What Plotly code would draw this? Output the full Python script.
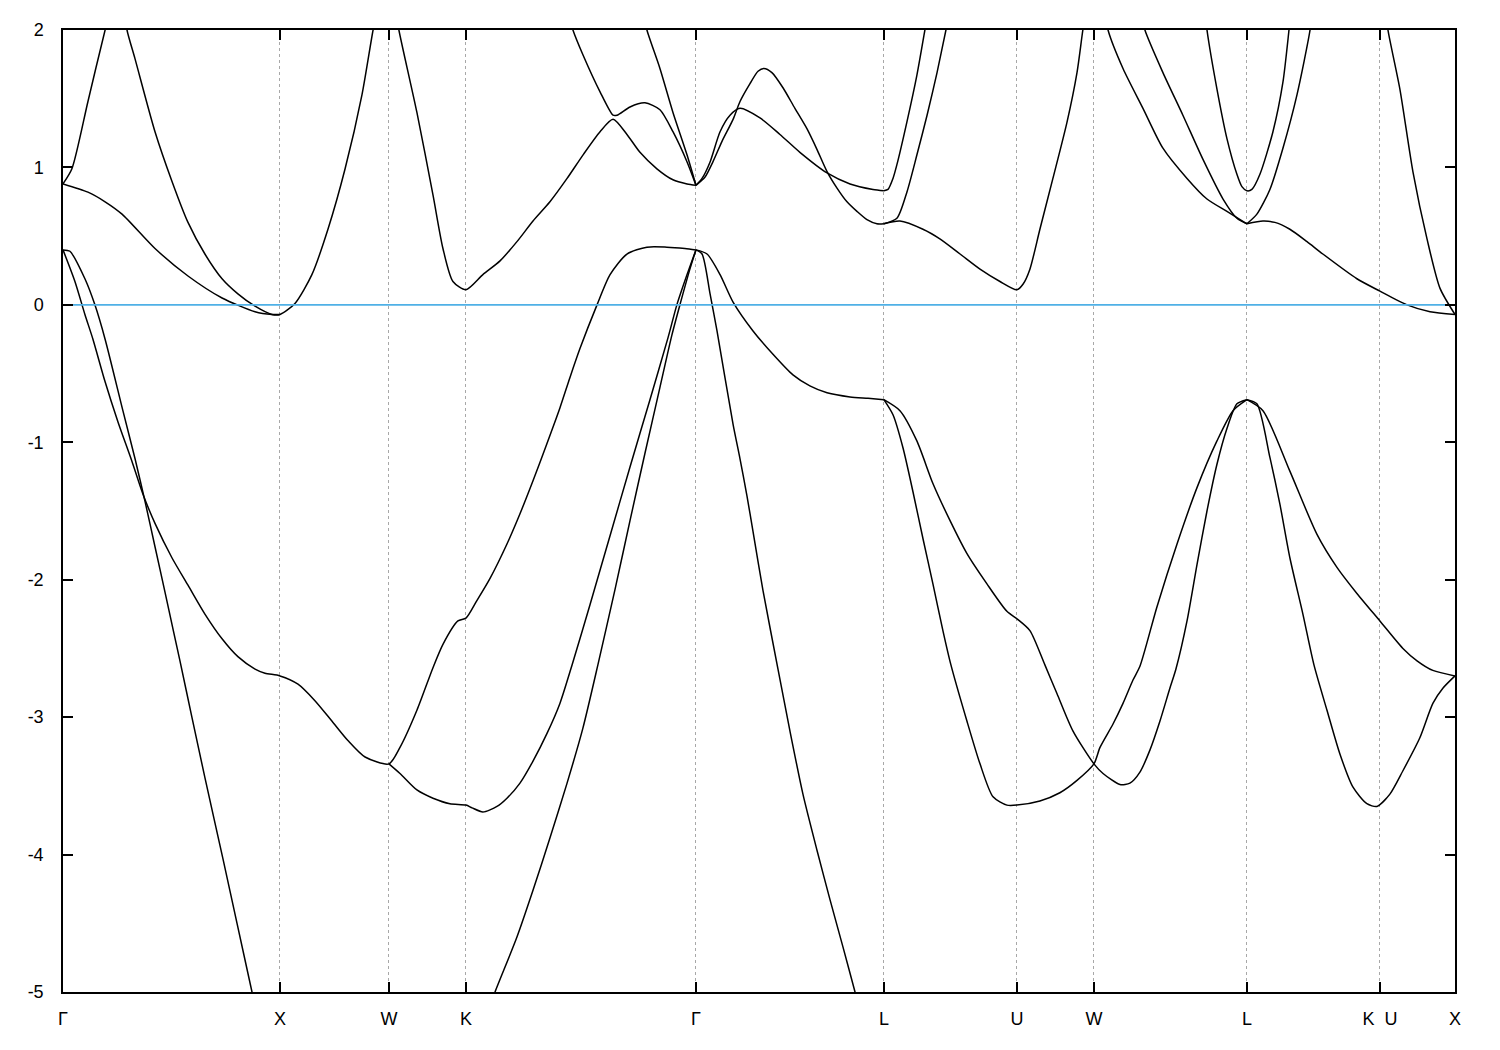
import plotly.graph_objects as go

# ---- high-symmetry points (k-path distance, units where Gamma-X = 1) ----
kpt_labels = ["Γ", "X", "W", "K", "Γ", "L", "U", "W", "L", "K\u00a0\u00a0U", "X"]
kpt_pos = [0.0, 1.0, 1.502, 1.857, 2.917, 3.783, 4.396, 4.751, 5.456, 6.069, 6.415]

e_ticks = [-5, -4, -3, -2, -1, 0, 1, 2]
e_tick_text = ["-5", "-4", "-3", "-2", "-1", "0", "1", "2"]
fermi_level = 0.0

# ---- valence bands ----
s1_k = [0, 0.032, 0.101, 0.147, 0.194, 0.276, 0.332, 0.378, 0.424, 0.470, 0.507, 0.539, 0.594, 0.654, 0.737, 0.802, 0.871, 0.917]
s1_e = [0.40, 0.39, 0.19, 0.00, -0.25, -0.77, -1.12, -1.43, -1.76, -2.09, -2.36, -2.59, -3.00, -3.44, -4.03, -4.50, -5.00, -5.33]

g_k = [0, 0.055, 0.101, 0.138, 0.194, 0.253, 0.318, 0.369, 0.424, 0.502, 0.576, 0.654, 0.733, 0.806, 0.885, 0.931, 1.000,
       1.083, 1.161, 1.240, 1.313, 1.392, 1.502,
       1.553, 1.631, 1.705, 1.751, 1.820, 1.857,
       1.908, 1.968, 2.046, 2.106, 2.166, 2.230, 2.290, 2.336, 2.382, 2.461, 2.521, 2.599, 2.691, 2.783, 2.866, 2.917]
g_e = [0.40, 0.17, -0.07, -0.25, -0.56, -0.85, -1.14, -1.38, -1.59, -1.84, -2.04, -2.25, -2.43, -2.56, -2.65, -2.68, -2.70,
       -2.76, -2.88, -3.03, -3.17, -3.29, -3.34,
       -3.22, -2.95, -2.64, -2.47, -2.30, -2.28,
       -2.15, -1.99, -1.74, -1.52, -1.28, -1.01, -0.75, -0.53, -0.32, 0.00, 0.22, 0.37, 0.42, 0.42, 0.41, 0.40]

h_k = [1.502, 1.553, 1.631, 1.705, 1.783, 1.857, 1.885, 1.935, 2.000, 2.046, 2.106, 2.166, 2.230, 2.290, 2.346, 2.429, 2.521, 2.613, 2.705, 2.788, 2.829, 2.876, 2.917]
h_e = [-3.34, -3.41, -3.53, -3.59, -3.63, -3.64, -3.66, -3.69, -3.65, -3.59, -3.48, -3.32, -3.12, -2.90, -2.62, -2.18, -1.68, -1.18, -0.69, -0.24, 0.00, 0.22, 0.40]

s2_k = [1.945, 1.991, 2.092, 2.166, 2.244, 2.323, 2.396, 2.465, 2.544, 2.613, 2.682, 2.751, 2.806, 2.843, 2.889, 2.917]
s2_e = [-5.20, -5.00, -4.60, -4.26, -3.88, -3.48, -3.08, -2.62, -2.07, -1.57, -1.08, -0.60, -0.22, 0.00, 0.26, 0.40]

vd_k = [2.917, 2.968, 3.028, 3.088, 3.180, 3.272, 3.364, 3.442, 3.521, 3.627, 3.710, 3.783]
vd_e = [0.40, 0.37, 0.22, 0.02, -0.19, -0.36, -0.51, -0.59, -0.64, -0.67, -0.68, -0.69]

sl_k = [2.917, 2.945, 2.982, 3.014, 3.088, 3.120, 3.152, 3.180, 3.226, 3.295, 3.350, 3.410, 3.475, 3.535, 3.594, 3.650, 3.696]
sl_e = [0.40, 0.37, 0.08, -0.19, -0.87, -1.12, -1.39, -1.65, -2.08, -2.65, -3.10, -3.56, -3.97, -4.33, -4.67, -5.00, -5.28]

p_k = [3.783, 3.825, 3.871, 3.917, 3.963, 4.009, 4.055, 4.092, 4.166, 4.226, 4.286, 4.350, 4.396, 4.502, 4.594, 4.673, 4.751,
       4.779, 4.839, 4.885, 4.931, 4.963, 5.041, 5.134, 5.226, 5.318, 5.392, 5.456]
p_e = [-0.69, -0.80, -1.04, -1.36, -1.70, -2.03, -2.37, -2.62, -3.03, -3.34, -3.58, -3.64, -3.64, -3.61, -3.55, -3.46, -3.34,
       -3.22, -3.05, -2.90, -2.73, -2.63, -2.20, -1.74, -1.33, -0.99, -0.77, -0.69]

q_k = [3.783, 3.857, 3.935, 4.009, 4.088, 4.166, 4.258, 4.350, 4.401, 4.456, 4.525, 4.581, 4.654, 4.751,
       4.793, 4.871, 4.917, 4.963, 5.009, 5.055, 5.101, 5.129, 5.180, 5.226, 5.272, 5.318, 5.364, 5.410, 5.456]
q_e = [-0.69, -0.77, -0.99, -1.30, -1.57, -1.81, -2.03, -2.23, -2.29, -2.37, -2.62, -2.83, -3.10, -3.34,
       -3.41, -3.49, -3.48, -3.40, -3.24, -3.03, -2.79, -2.65, -2.30, -1.89, -1.50, -1.16, -0.90, -0.72, -0.69]

r_k = [5.456, 5.502, 5.562, 5.608, 5.654, 5.714, 5.765, 5.825, 5.885, 5.945, 6.009, 6.055, 6.115, 6.175, 6.253, 6.313, 6.359, 6.415]
r_e = [-0.69, -0.72, -1.11, -1.45, -1.84, -2.25, -2.62, -2.95, -3.27, -3.51, -3.63, -3.65, -3.56, -3.39, -3.15, -2.90, -2.79, -2.70]

t_k = [5.456, 5.530, 5.654, 5.779, 5.871, 5.963, 6.069, 6.175, 6.240, 6.313, 6.415]
t_e = [-0.69, -0.77, -1.21, -1.67, -1.91, -2.10, -2.30, -2.50, -2.59, -2.66, -2.70]

# ---- conduction bands ----
a_k = [0, 0.041, 0.115, 0.194, 0.217]
a_e = [0.88, 0.99, 1.48, 2.00, 2.13]

b_k = [0, 0.115, 0.194, 0.272, 0.424, 0.576, 0.733, 0.885, 0.963, 1.0]
b_e = [0.88, 0.82, 0.75, 0.66, 0.41, 0.21, 0.05, -0.05, -0.07, -0.07]

c_k = [0.286, 0.295, 0.332, 0.424, 0.502, 0.576, 0.654, 0.733, 0.806, 0.885, 0.963, 1.0,
       1.069, 1.147, 1.221, 1.300, 1.378, 1.429, 1.447]
c_e = [2.13, 2.00, 1.79, 1.26, 0.90, 0.60, 0.37, 0.19, 0.08, -0.01, -0.07, -0.07,
       0.01, 0.22, 0.55, 0.99, 1.53, 2.00, 2.13]

d_k = [1.535, 1.548, 1.631, 1.705, 1.751, 1.797, 1.857, 1.935, 2.014, 2.092, 2.166, 2.244, 2.323, 2.396, 2.475, 2.535,
       2.599, 2.659, 2.737, 2.811, 2.876, 2.917]
d_e = [2.13, 2.00, 1.40, 0.80, 0.41, 0.17, 0.11, 0.22, 0.32, 0.46, 0.61, 0.75, 0.92, 1.09, 1.26, 1.35,
       1.24, 1.11, 0.99, 0.91, 0.88, 0.87]

e_k = [2.327, 2.350, 2.396, 2.475, 2.535, 2.553, 2.613, 2.682, 2.751, 2.811, 2.876, 2.917]
e_e = [2.13, 2.00, 1.82, 1.55, 1.38, 1.38, 1.44, 1.47, 1.42, 1.26, 1.04, 0.87]

f_k = [2.673, 2.691, 2.751, 2.811, 2.876, 2.917]
f_e = [2.13, 2.00, 1.72, 1.40, 1.09, 0.87]

j_k = [2.917, 2.959, 2.995, 3.037, 3.088, 3.120, 3.166, 3.203, 3.230, 3.267, 3.318, 3.373, 3.429, 3.475, 3.521,
       3.567, 3.613, 3.659, 3.705, 3.751, 3.783]
j_e = [0.87, 0.93, 1.04, 1.19, 1.35, 1.48, 1.61, 1.70, 1.72, 1.69, 1.58, 1.43, 1.28, 1.13, 0.97,
       0.85, 0.75, 0.68, 0.62, 0.59, 0.59]

k1_k = [2.917, 2.945, 2.982, 3.028, 3.074, 3.120, 3.212, 3.304, 3.396, 3.521, 3.627, 3.733, 3.783]
k1_e = [0.87, 0.92, 1.04, 1.26, 1.38, 1.43, 1.36, 1.24, 1.11, 0.96, 0.88, 0.84, 0.83]

m1_k = [3.783, 3.802, 3.825, 3.843, 3.889, 3.935, 3.972, 3.986]
m1_e = [0.83, 0.84, 0.92, 1.02, 1.33, 1.67, 2.00, 2.13]

m2_k = [3.783, 3.843, 3.889, 3.935, 3.982, 4.028, 4.069, 4.088]
m2_e = [0.59, 0.63, 0.82, 1.09, 1.38, 1.69, 2.00, 2.13]

m3_k = [3.783, 3.857, 3.963, 4.041, 4.134, 4.226, 4.318, 4.396, 4.424, 4.456, 4.502, 4.562, 4.627, 4.673, 4.700, 4.714]
m3_e = [0.59, 0.61, 0.55, 0.48, 0.37, 0.26, 0.17, 0.11, 0.15, 0.26, 0.55, 0.92, 1.33, 1.69, 2.00, 2.13]

n1_k = [4.802, 4.816, 4.885, 4.977, 5.069, 5.180, 5.272, 5.364, 5.456]
n1_e = [2.13, 2.00, 1.72, 1.43, 1.14, 0.92, 0.77, 0.68, 0.59]

n2_k = [4.968, 4.986, 5.069, 5.161, 5.253, 5.346, 5.410, 5.456]
n2_e = [2.13, 2.00, 1.69, 1.38, 1.06, 0.77, 0.63, 0.59]

n3_k = [5.263, 5.272, 5.318, 5.364, 5.410, 5.433, 5.456, 5.479, 5.516, 5.576, 5.622, 5.650, 5.659]
n3_e = [2.13, 2.00, 1.57, 1.21, 0.95, 0.86, 0.83, 0.84, 0.95, 1.26, 1.62, 2.00, 2.13]

n4_k = [5.456, 5.502, 5.562, 5.622, 5.687, 5.747, 5.756]
n4_e = [0.59, 0.66, 0.84, 1.14, 1.53, 2.00, 2.13]

n5_k = [5.456, 5.530, 5.585, 5.654, 5.733, 5.806, 5.963, 6.069, 6.194, 6.300, 6.415]
n5_e = [0.59, 0.61, 0.60, 0.55, 0.46, 0.37, 0.19, 0.10, 0.00, -0.05, -0.07]

n6_k = [6.097, 6.106, 6.161, 6.221, 6.286, 6.346, 6.415]
n6_e = [2.13, 2.00, 1.57, 0.97, 0.48, 0.12, -0.07]

bands = [
    (s1_k, s1_e), (g_k, g_e), (h_k, h_e), (s2_k, s2_e), (vd_k, vd_e), (sl_k, sl_e),
    (p_k, p_e), (q_k, q_e), (r_k, r_e), (t_k, t_e),
    (a_k, a_e), (b_k, b_e), (c_k, c_e), (d_k, d_e), (e_k, e_e), (f_k, f_e),
    (j_k, j_e), (k1_k, k1_e), (m1_k, m1_e), (m2_k, m2_e), (m3_k, m3_e),
    (n1_k, n1_e), (n2_k, n2_e), (n3_k, n3_e), (n4_k, n4_e), (n5_k, n5_e), (n6_k, n6_e),
]

fig = go.Figure()
for kx, ey in bands:
    fig.add_trace(go.Scatter(
        x=kx, y=ey, mode="lines",
        line=dict(color="black", width=1.5, shape="spline", smoothing=0.7),
        showlegend=False, hoverinfo="skip",
    ))

fig.add_trace(go.Scatter(
    x=[kpt_pos[0], kpt_pos[-1]], y=[fermi_level, fermi_level], mode="lines",
    line=dict(color="#4fb0e6", width=1.8), showlegend=False, hoverinfo="skip",
))

font_main = dict(family="Liberation Sans, Arial, sans-serif", size=18, color="black")

fig.update_layout(
    width=1484, height=1034,
    margin=dict(l=55, r=37, t=20, b=50),
    paper_bgcolor="white", plot_bgcolor="white",
    font=font_main,
    showlegend=False,
)
fig.update_xaxes(
    range=[kpt_pos[0], kpt_pos[-1]],
    tickmode="array", tickvals=kpt_pos, ticktext=kpt_labels, tickangle=0,
    ticks="inside", ticklen=10, tickwidth=1.5, tickcolor="black",
    showline=True, linecolor="black", linewidth=1.5, mirror="ticks",
    showgrid=True, gridcolor="#a8a8a8", gridwidth=1, griddash="dot",
    zeroline=False, ticklabelstandoff=10,
    tickfont=font_main,
)
fig.update_yaxes(
    range=[-5, 2],
    tickmode="array", tickvals=e_ticks, ticktext=e_tick_text,
    ticks="inside", ticklen=10, tickwidth=1.5, tickcolor="black",
    showline=True, linecolor="black", linewidth=1.5, mirror="ticks",
    showgrid=False, zeroline=False, ticklabelstandoff=14,
    tickfont=font_main,
)

fig.write_html("out.html")
